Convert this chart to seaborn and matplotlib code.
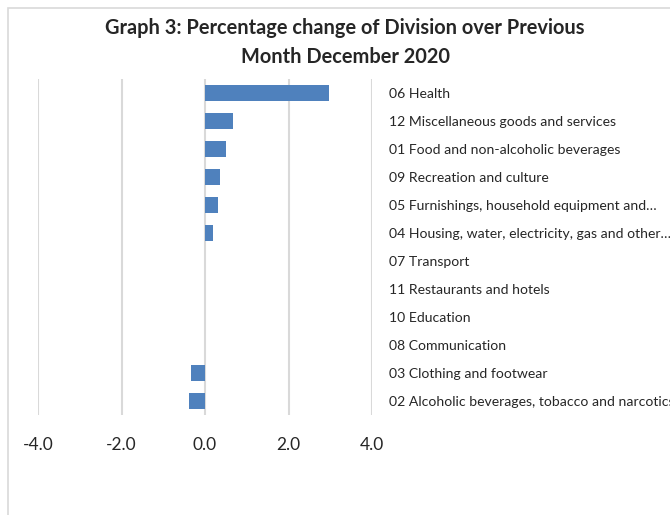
import matplotlib.pyplot as plt
import seaborn as sns
from matplotlib.patches import Rectangle

# Data: percentage change by division, top to bottom
divisions = [
    '06 Health',
    '12 Miscellaneous goods and services',
    '01 Food and non-alcoholic beverages',
    '09 Recreation and culture',
    '05 Furnishings, household equipment and…',
    '04 Housing, water, electricity, gas and other…',
    '07 Transport',
    '11 Restaurants and hotels',
    '10 Education',
    '08 Communication',
    '03 Clothing and footwear',
    '02 Alcoholic beverages, tobacco and narcotics',
]
pct_change = [2.96, 0.66, 0.51, 0.35, 0.30, 0.18, 0.0, 0.0, 0.0, 0.0, -0.34, -0.39]
x_ticks = [-4.0, -2.0, 0.0, 2.0, 4.0]

sns.set_style('white')
plt.rcParams['font.family'] = ['Lato', 'DejaVu Sans']

fig = plt.figure(figsize=(6.7, 5.15), dpi=100)
ax = fig.add_axes([38 / 670, 100 / 515, 334 / 670, 336 / 515])

# chart border (partly cropped)
fig.patches.append(Rectangle((8 / 670, -0.1), 1.2, 0.1 + (515 - 8) / 515,
                             transform=fig.transFigure, fill=False,
                             edgecolor='#d9d9d9', linewidth=1.2))

ax.set_axisbelow(True)
for t in x_ticks:
    ax.axvline(t, color='#d9d9d9', linewidth=1.5, zorder=0)

sns.barplot(x=pct_change, y=divisions, orient='h', color='#4f81bd',
            width=0.57, saturation=1, linewidth=0, ax=ax)

ax.set_xlim(-4, 4)
ax.set_xticks(x_ticks)
ax.set_xticklabels([f'{t:.1f}' for t in x_ticks], fontsize=12.5, color='#262626')
ax.tick_params(axis='x', length=0, pad=16)
ax.yaxis.tick_right()
ax.tick_params(axis='y', length=0, pad=12, labelsize=10.1, labelcolor='#262626')
ax.set_xlabel('')
ax.set_ylabel('')
ax.grid(False)
for s in ax.spines.values():
    s.set_visible(False)

fig.text(0.515, 1 - 28 / 515, 'Graph 3: Percentage change of Division over Previous',
         ha='center', va='center', fontsize=14.4, fontweight='bold', color='#262626')
fig.text(0.515, 1 - 57 / 515, 'Month December 2020',
         ha='center', va='center', fontsize=14.4, fontweight='bold', color='#262626')

fig.savefig('out.png', dpi=100)
plt.close(fig)
